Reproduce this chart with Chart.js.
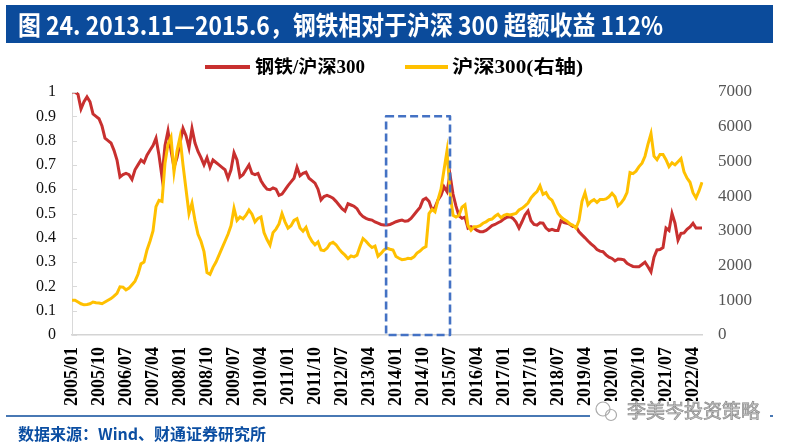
<!DOCTYPE html>
<html><head><meta charset="utf-8">
<script src="https://cdn.jsdelivr.net/npm/chart.js@4.4.0/dist/chart.umd.min.js"></script>
<style>html,body{margin:0;padding:0;background:#fff;}#wrap{position:relative;width:788px;height:445px;}</style>
</head><body><div id="wrap"><canvas id="c"></canvas></div>
<script>
// ---- categories: monthly, 2005/01 .. 2022/07 ----
const categories = [];
for (let y = 2005; y <= 2022; y++) {
  for (let m = 1; m <= 12; m++) {
    if (y === 2022 && m > 7) break;
    categories.push(y + '/' + String(m).padStart(2, '0'));
  }
}

// ---- series: 钢铁/沪深300 (left axis) ----
const steelRel = [
  1.0, 1.0, 0.99, 0.93, 0.96, 0.98, 0.96, 0.91, 0.90, 0.89,
  0.86, 0.81, 0.80, 0.79, 0.76, 0.72, 0.65, 0.66, 0.665, 0.66,
  0.64, 0.68, 0.70, 0.72, 0.71, 0.74, 0.76, 0.78, 0.81, 0.74,
  0.65, 0.78, 0.84, 0.76, 0.69, 0.73, 0.79, 0.85, 0.82, 0.77,
  0.85, 0.79, 0.755, 0.73, 0.70, 0.73, 0.69, 0.72, 0.71, 0.70,
  0.69, 0.68, 0.645, 0.68, 0.75, 0.72, 0.65, 0.66, 0.68, 0.70,
  0.665, 0.66, 0.665, 0.635, 0.615, 0.60, 0.598, 0.605, 0.60, 0.575,
  0.58, 0.597, 0.615, 0.63, 0.645, 0.69, 0.655, 0.665, 0.67, 0.645,
  0.635, 0.625, 0.60, 0.556, 0.57, 0.575, 0.57, 0.563, 0.55, 0.535,
  0.52, 0.51, 0.54, 0.535, 0.53, 0.52, 0.50, 0.487, 0.48, 0.475,
  0.473, 0.465, 0.46, 0.455, 0.453, 0.453, 0.455, 0.46, 0.466, 0.47,
  0.473, 0.468, 0.47, 0.48, 0.495, 0.51, 0.525, 0.556, 0.563, 0.55,
  0.515, 0.525, 0.556, 0.575, 0.61, 0.59, 0.66, 0.58, 0.53, 0.49,
  0.48, 0.485, 0.44, 0.446, 0.44, 0.43, 0.425, 0.425, 0.43, 0.44,
  0.45, 0.455, 0.462, 0.468, 0.478, 0.485, 0.487, 0.48, 0.465, 0.44,
  0.466, 0.494, 0.51, 0.47, 0.455, 0.452, 0.462, 0.46, 0.44, 0.43,
  0.435, 0.43, 0.43, 0.47, 0.463, 0.46, 0.455, 0.446, 0.446, 0.425,
  0.412, 0.40, 0.387, 0.375, 0.365, 0.352, 0.345, 0.343, 0.33, 0.32,
  0.315, 0.305, 0.313, 0.312, 0.309, 0.295, 0.288, 0.282, 0.281, 0.281,
  0.29, 0.30, 0.281, 0.26, 0.32, 0.35, 0.352, 0.36, 0.44, 0.43,
  0.50, 0.46, 0.39, 0.418, 0.42, 0.435, 0.445, 0.46, 0.44, 0.44, 0.44
];

// ---- series: 沪深300 (right axis) ----
const hs300 = [
  1000, 1000, 950, 900, 870, 880, 900, 950, 930, 920,
  900, 950, 1000, 1050, 1120, 1200, 1390, 1380, 1300, 1350,
  1450, 1550, 1750, 2050, 2100, 2450, 2700, 3000, 3700, 3880,
  3850, 4950, 5500, 5700, 4700, 5300, 5700, 4900, 4200, 3500,
  3800, 3300, 2900, 2700, 2400, 1800, 1750, 1950, 2100, 2300,
  2500, 2700, 2900, 3150, 3650, 3300, 3400, 3350, 3450, 3600,
  3480, 3260, 3360, 3400, 2950, 2750, 2590, 2950, 3050, 3200,
  3500, 3260, 3080, 3150, 3300, 3350, 3080, 2990, 3100, 2850,
  2700, 2600, 2680, 2450, 2430, 2500, 2630, 2670, 2600, 2480,
  2380, 2300, 2200, 2280, 2250, 2300, 2550, 2780, 2700, 2600,
  2520, 2560, 2270, 2350, 2450, 2500, 2470, 2450, 2260, 2210,
  2170, 2180, 2210, 2200, 2250, 2360, 2420, 2500, 2550, 3500,
  3620, 3550, 3900, 4200, 4750, 5300, 4100, 3450, 3400, 3450,
  3680, 3750, 3150, 3020, 3120, 3120, 3150, 3220, 3260, 3320,
  3340, 3420, 3480, 3380, 3450, 3480, 3460, 3480, 3500, 3600,
  3650, 3720, 3800, 3950, 4050, 4130, 4300, 4050, 4100, 3950,
  3880, 3700, 3500, 3400, 3330, 3280, 3200, 3160, 3080, 3300,
  3850, 4100, 3750, 3850, 3900, 3820, 3900, 3900, 3920, 3980,
  4080, 3980, 3720, 3800, 3920, 4100, 4680, 4650, 4720, 4850,
  4950, 5150, 5500, 5800, 5150, 5050, 5200, 5200, 5050, 4850,
  4960, 4900, 4990, 5080, 4700, 4520, 4400, 4100, 3950, 4150, 4400
];

const leftTicks = [0, 0.1, 0.2, 0.3, 0.4, 0.5, 0.6, 0.7, 0.8, 0.9, 1];
const rightTicks = [0, 1000, 2000, 3000, 4000, 5000, 6000, 7000];
const seriesNames = ['钢铁/沪深300', '沪深300(右轴)'];
const titleText = '图 24. 2013.11—2015.6，钢铁相对于沪深 300 超额收益 112%';
const sourceText = '数据来源：Wind、财通证券研究所';
const watermarkText = '李美岑投资策略';
// highlight window (category index range, 2013/11 — 2015/6) and its top on the left axis
const boxRange = [104.7, 126.0];
const boxTop = 0.9;

const RED = '#C8302F', YELLOW = '#FFC000', BLUE = '#0B4B9B';

function fitText(ctx, text, x, y, targetW) {
  const w = ctx.measureText(text).width;
  ctx.save(); ctx.translate(x, y); ctx.scale(targetW / w, 1); ctx.fillText(text, 0, 0); ctx.restore();
}

const decor = {
  id: 'decor',
  beforeDraw(chart) {
    const ctx = chart.ctx;
    ctx.save();
    ctx.fillStyle = '#fff'; ctx.fillRect(0, 0, chart.width, chart.height);
    // title bar
    ctx.fillStyle = BLUE; ctx.fillRect(6, 5, 767, 38);
    ctx.fillStyle = '#fff';
    ctx.font = 'bold 26px "Noto Sans CJK SC"';
    ctx.textBaseline = 'alphabetic'; ctx.textAlign = 'left';
    fitText(ctx, titleText, 18, 35, 645);
    // legend
    ctx.lineWidth = 4; ctx.lineCap = 'butt';
    ctx.strokeStyle = RED; ctx.beginPath(); ctx.moveTo(205, 67); ctx.lineTo(250, 67); ctx.stroke();
    ctx.strokeStyle = YELLOW; ctx.beginPath(); ctx.moveTo(405, 67); ctx.lineTo(448, 67); ctx.stroke();
    ctx.fillStyle = '#000';
    ctx.font = 'bold 18px "Liberation Serif", "Noto Sans CJK SC"';
    ctx.textBaseline = 'middle';
    fitText(ctx, seriesNames[0], 255, 68, 110);
    fitText(ctx, seriesNames[1], 452, 68, 131);
    // bottom rule + source
    ctx.strokeStyle = BLUE; ctx.lineWidth = 1.5;
    ctx.beginPath(); ctx.moveTo(6, 416); ctx.lineTo(773, 416); ctx.stroke();
    ctx.fillStyle = '#0B4EA2';
    ctx.font = 'bold 16px "Noto Sans CJK SC"';
    ctx.textBaseline = 'middle';
    ctx.fillText(sourceText, 18, 434);
    ctx.restore();
  },
  afterDatasetsDraw(chart) {
    const ctx = chart.ctx, xs = chart.scales.x, ys = chart.scales.y;
    ctx.save();
    const x1 = xs.getPixelForValue(boxRange[0]), x2 = xs.getPixelForValue(boxRange[1]);
    const y1 = ys.getPixelForValue(boxTop), y2 = ys.getPixelForValue(0);
    ctx.strokeStyle = '#4472C4'; ctx.lineWidth = 2.6; ctx.setLineDash([8, 4]);
    ctx.lineJoin = 'round';
    ctx.strokeRect(x1, y1, x2 - x1, y2 - y1);
    ctx.restore();
  },
  afterDraw(chart) {
    const ctx = chart.ctx, ys = chart.scales.y, area = chart.chartArea;
    ctx.save();
    // inward tick marks on left axis
    ctx.strokeStyle = '#d9d9d9'; ctx.lineWidth = 1;
    leftTicks.forEach(v => {
      const y = Math.round(ys.getPixelForValue(v)) + 0.5;
      ctx.beginPath(); ctx.moveTo(area.left, y); ctx.lineTo(area.left + 5, y); ctx.stroke();
    });
    // watermark
    ctx.fillStyle = '#fff'; ctx.fillRect(590, 401, 180, 21);
    ctx.strokeStyle = '#aaa'; ctx.lineWidth = 1.2;
    ctx.beginPath(); ctx.arc(603, 409, 7, 0, Math.PI * 2); ctx.stroke();
    ctx.beginPath(); ctx.arc(611, 415, 5.5, 0, Math.PI * 2); ctx.stroke();
    ctx.font = '19px "Noto Sans CJK SC"';
    ctx.textBaseline = 'middle';
    ctx.fillStyle = '#c4c4c4'; ctx.strokeStyle = '#8c8c8c'; ctx.lineWidth = 0.7;
    ctx.fillText(watermarkText, 627, 411);
    ctx.strokeText(watermarkText, 627, 411);
    ctx.restore();
  }
};

new Chart(document.getElementById('c'), {
  type: 'line',
  data: {
    labels: categories,
    datasets: [
      { label: seriesNames[0], data: steelRel, yAxisID: 'y', borderColor: RED, backgroundColor: RED,
        borderWidth: 3, pointRadius: 0, tension: 0, order: 1 },
      { label: seriesNames[1], data: hs300, yAxisID: 'y1', borderColor: YELLOW, backgroundColor: YELLOW,
        borderWidth: 3, pointRadius: 0, tension: 0, order: 0 }
    ]
  },
  options: {
    responsive: true, maintainAspectRatio: false, animation: false,
    layout: { padding: { top: 92, left: 0, right: 0, bottom: 0 } },
    plugins: { legend: { display: false }, tooltip: { enabled: false } },
    scales: {
      x: {
        type: 'category', offset: false,
        grid: { display: true, drawOnChartArea: false, drawTicks: false },
        border: { display: true, color: '#d4d4d4', width: 1.5 },
        ticks: {
          autoSkip: false, minRotation: 90, maxRotation: 90, padding: 12,
          color: '#000', font: { family: '"Liberation Serif"', size: 18, weight: 'bold' },
          callback: (v, i) => (i % 9 === 0 ? categories[i] : '')
        },
        afterFit: s => { s.height = 110; }
      },
      y: {
        position: 'left', min: 0, max: 1,
        grid: { display: true, drawOnChartArea: false, drawTicks: false },
        border: { display: true, color: '#d9d9d9', width: 1 },
        afterBuildTicks: s => { s.ticks = leftTicks.map(v => ({ value: v })); },
        ticks: {
          padding: 16, color: '#111', font: { family: '"Liberation Serif"', size: 16 },
          callback: v => (v === 0 || v === 1 ? String(v) : v.toFixed(1))
        },
        afterFit: s => { s.width = 72; }
      },
      y1: {
        position: 'right', min: 0, max: 7000,
        grid: { display: false, drawTicks: false },
        border: { display: false },
        afterBuildTicks: s => { s.ticks = rightTicks.map(v => ({ value: v })); },
        ticks: { padding: 16, color: '#555', font: { family: '"Liberation Serif"', size: 17 },
          callback: v => String(v) },
        afterFit: s => { s.width = 86; }
      }
    }
  },
  plugins: [decor]
});
</script>
</body></html>
